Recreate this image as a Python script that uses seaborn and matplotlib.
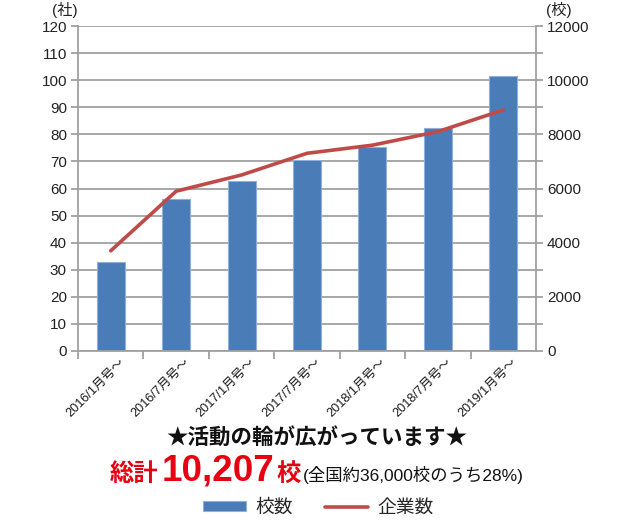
import matplotlib
matplotlib.use("Agg")
import matplotlib.pyplot as plt
import matplotlib.transforms as mtransforms
from matplotlib.ticker import MultipleLocator
import seaborn as sns
import pandas as pd

categories = ["2016/1月号～", "2016/7月号～", "2017/1月号～", "2017/7月号～",
              "2018/1月号～", "2018/7月号～", "2019/1月号～"]
schools = [3300, 5600, 6260, 7060, 7540, 8230, 10150]     # 校数 (right axis)
companies = [37, 59, 65, 73, 76, 81, 89]                    # 企業数 (left axis)

BLUE = "#4A7CB8"
RED = "#BE4B48"
GRID = "#A0A0A0"

sns.set_style("white")
plt.rcParams["font.family"] = ["Liberation Sans", "Noto Sans CJK JP", "DejaVu Sans"]

df = pd.DataFrame({"cat": categories, "schools": schools, "companies": companies})

fig = plt.figure(figsize=(6.3, 5.21), dpi=100)
W, H = 630, 521
ax = fig.add_axes([78 / W, 1 - 351 / H, (536 - 78) / W, (351 - 26) / H])
ax2 = ax.twinx()

# bars on the right (校) axis
sns.barplot(data=df, x="cat", y="schools", ax=ax2, color=BLUE, saturation=1,
            width=0.43, edgecolor="#8FB0DA", linewidth=0.8, label="校数")
# line on the left (社) axis
sns.lineplot(data=df, x="cat", y="companies", ax=ax, color=RED, linewidth=2.6,
             sort=False, label="企業数")

ax.set_zorder(ax2.get_zorder() + 1)
ax.patch.set_visible(False)

ax.set_ylim(0, 120)
ax2.set_ylim(0, 12000)
ax.set_xlim(-0.5, 6.5)
ax.yaxis.set_major_locator(MultipleLocator(10))
ax2.yaxis.set_major_locator(MultipleLocator(2000))
ax2.yaxis.set_minor_locator(MultipleLocator(1000))

# grid on the bar axis (under bars)
ax2.set_axisbelow(True)
ax2.grid(axis="y", which="both", color=GRID, linewidth=1.3)
ax.grid(False)

for a in (ax, ax2):
    a.set_xlabel("")
    a.set_ylabel("")
    for s in a.spines.values():
        s.set_visible(False)
    if a.get_legend() is not None:
        a.get_legend().remove()

for side in ("left", "right", "bottom"):
    ax.spines[side].set_visible(True)
    ax.spines[side].set_color(GRID)
    ax.spines[side].set_linewidth(1.3)

ax.tick_params(axis="y", which="major", left=True, length=5, width=1.3, color=GRID,
               labelsize=11, labelcolor="#222222", pad=3)
ax2.tick_params(axis="y", which="both", right=True, length=5, width=1.3, color=GRID,
                labelsize=11, labelcolor="#222222", pad=3)
ax2.tick_params(axis="x", bottom=False, labelbottom=False)

# x ticks: marks at category boundaries, labels at centres
ax.set_xticks(range(len(categories)))
ax.set_xticklabels(categories)
ax.set_xticks([i - 0.5 for i in range(len(categories))], minor=True)
ax.tick_params(axis="x", which="major", length=0, labelsize=9.2, pad=6.5,
               labelcolor="#1a1a1a")
ax.tick_params(axis="x", which="minor", bottom=True, length=6, width=1.3, color=GRID)
offset = mtransforms.ScaledTranslation(12 / 100, 0, fig.dpi_scale_trans)
for lbl in ax.get_xticklabels():
    lbl.set_rotation(45)
    lbl.set_ha("right")
    lbl.set_va("center")
    lbl.set_rotation_mode("anchor")
    lbl.set_transform(lbl.get_transform() + offset)

# axis unit labels
fig.text(65 / W, 1 - 10 / H, "(社)", ha="center", va="center", fontsize=11, color="#222222")
fig.text(559 / W, 1 - 10 / H, "(校)", ha="center", va="center", fontsize=11, color="#222222")

# headline
fig.text(317 / W, 1 - 438 / H, "★活動の輪が広がっています★", ha="center", va="center",
         fontsize=15.5, fontweight="bold", color="#111111")

# composite total line
fig.canvas.draw()
renderer = fig.canvas.get_renderer()
base_y = 1 - 481 / H
x = 110 / W
parts = [("総計", 17.5, "bold", "#E60012", 0),
         ("10,207", 26.5, "bold", "#E60012", 3),
         ("校", 17.5, "bold", "#E60012", 2),
         ("(全国約36,000校のうち28%)", 12.5, "normal", "#111111", 2)]
for txt, size, weight, col, gap in parts:
    t = fig.text(x + gap / W, base_y, txt, ha="left", va="baseline", fontsize=size,
                 fontweight=weight, color=col)
    bb = t.get_window_extent(renderer)
    x = bb.x1 / W

# legend from the plotted artists
handles = [ax2.containers[0], ax.lines[0]]
fig.legend(handles, ["校数", "企業数"], loc="center", bbox_to_anchor=(318 / W, 1 - 508 / H),
           ncol=2, frameon=False, fontsize=13.5, handlelength=2.3, handleheight=0.45,
           handletextpad=0.5, columnspacing=1.7)

fig.savefig("out.png", dpi=100)
